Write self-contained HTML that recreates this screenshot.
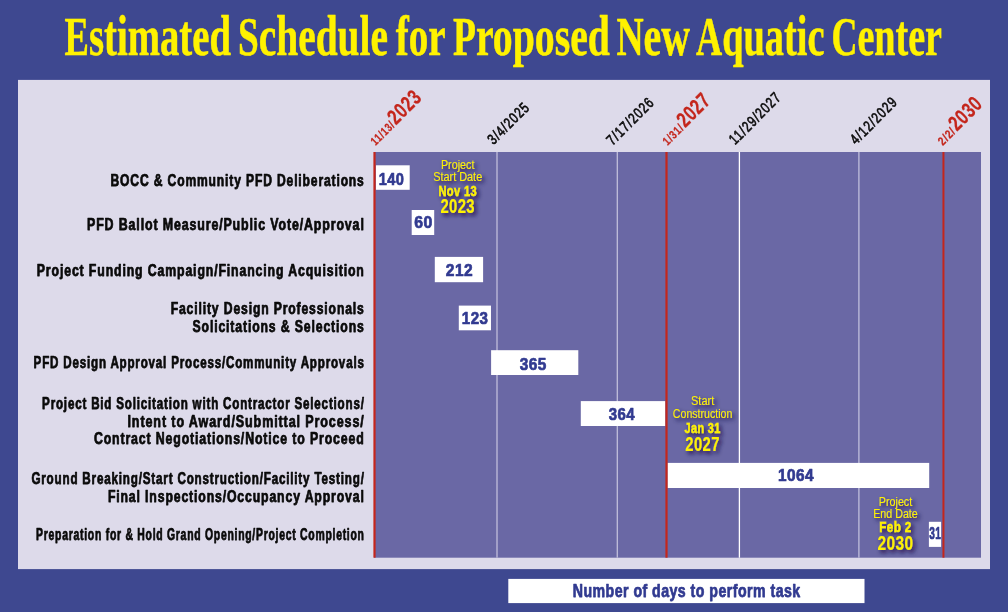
<!DOCTYPE html>
<html lang="en"><head><meta charset="utf-8">
<title>Estimated Schedule for Proposed New Aquatic Center</title>
<style>
html,body{margin:0;padding:0;background:#3e4890;}
body{width:1008px;height:612px;overflow:hidden;}
svg{display:block;}
text{font-family:"Liberation Sans",Arial,Helvetica,sans-serif;}
.title{font-family:"Liberation Serif","Times New Roman",serif;font-weight:bold;font-size:57.4px;fill:#fff200;stroke:#fff200;stroke-width:0.5px;stroke-linejoin:round;}
.title .c{font-size:54.2px;}
.lab{font-weight:bold;font-size:15.7px;fill:#0a0a0a;letter-spacing:1.1px;stroke:#0a0a0a;stroke-width:0.75px;stroke-linejoin:round;}
.num{font-weight:bold;font-size:17.2px;fill:#313a90;letter-spacing:0.5px;stroke:#313a90;stroke-width:0.7px;stroke-linejoin:round;}
.dt{font-size:15px;fill:#0a0a0a;stroke:#0a0a0a;stroke-width:0.65px;letter-spacing:1.3px;}
.rs{font-weight:bold;font-size:12px;fill:#c4261c;letter-spacing:0.9px;stroke:#c4261c;stroke-width:0.25px;}
.rb{font-weight:bold;font-size:21.5px;fill:#c4261c;letter-spacing:0.8px;stroke:#c4261c;stroke-width:0.25px;}
.n1{font-size:12px;fill:#fff200;}
.n2{font-weight:bold;font-size:15.3px;fill:#fff200;letter-spacing:0.5px;stroke:#fff200;stroke-width:0.4px;}
.n3{font-weight:bold;font-size:19.6px;fill:#fff200;letter-spacing:0.5px;}
.leg{font-weight:bold;font-size:17.9px;fill:#313a90;letter-spacing:0.6px;stroke:#313a90;stroke-width:0.75px;stroke-linejoin:round;}
</style></head><body>
<svg width="1008" height="612" viewBox="0 0 1008 612">
<defs><filter id="sh" x="-30%" y="-30%" width="170%" height="180%"><feDropShadow dx="2.4" dy="2.6" stdDeviation="2" flood-color="#120d3c" flood-opacity="0.95"/></filter></defs>
<rect x="0" y="0" width="1008" height="612" fill="#3e4890"/>
<rect x="18" y="79.9" width="972" height="489.2" fill="#dddaea"/>
<rect x="374" y="152" width="607" height="405.7" fill="#6a68a5"/>
<rect x="496.35" y="152.00" width="1.30" height="405.70" fill="#c0bedb" fill-opacity="1"/>
<rect x="616.65" y="152.00" width="1.30" height="405.70" fill="#c0bedb" fill-opacity="1"/>
<rect x="738.75" y="152.00" width="1.30" height="405.70" fill="#ffffff" fill-opacity="1"/>
<rect x="858.25" y="152.00" width="1.30" height="405.70" fill="#c0bedb" fill-opacity="1"/>
<rect x="375.90" y="165.30" width="33.80" height="24.50" fill="#fff"/>
<rect x="411.70" y="210.00" width="22.50" height="25.00" fill="#fff"/>
<rect x="434.80" y="256.90" width="48.30" height="25.30" fill="#fff"/>
<rect x="458.80" y="305.60" width="32.20" height="24.70" fill="#fff"/>
<rect x="491.10" y="350.20" width="87.20" height="24.80" fill="#fff"/>
<rect x="580.80" y="401.10" width="84.50" height="24.90" fill="#fff"/>
<rect x="667.50" y="462.90" width="261.70" height="25.10" fill="#fff"/>
<rect x="928.90" y="521.80" width="12.20" height="25.10" fill="#fff"/>
<rect x="373.40" y="152.00" width="2.20" height="405.70" fill="#c4261c" fill-opacity="1"/>
<rect x="665.40" y="152.00" width="2.20" height="405.70" fill="#c4261c" fill-opacity="1"/>
<rect x="942.45" y="152.00" width="2.00" height="405.70" fill="#c4261c" fill-opacity="1"/>
<text class="num" x="378.70" y="184.70" textLength="25.60" lengthAdjust="spacingAndGlyphs">140</text>
<text class="num" x="414.30" y="228.20" textLength="18.50" lengthAdjust="spacingAndGlyphs">60</text>
<text class="num" x="445.80" y="275.50" textLength="27.30" lengthAdjust="spacingAndGlyphs">212</text>
<text class="num" x="461.80" y="324.40" textLength="26.60" lengthAdjust="spacingAndGlyphs">123</text>
<text class="num" x="519.80" y="369.90" textLength="27.00" lengthAdjust="spacingAndGlyphs">365</text>
<text class="num" x="608.80" y="420.00" textLength="26.30" lengthAdjust="spacingAndGlyphs">364</text>
<text class="num" x="778.10" y="480.60" textLength="36.00" lengthAdjust="spacingAndGlyphs">1064</text>
<text class="num" x="929.30" y="538.60" textLength="11.90" lengthAdjust="spacingAndGlyphs">31</text>
<text class="title" x="64.60" y="55" textLength="166.4" lengthAdjust="spacingAndGlyphs"><tspan class="c">E</tspan>stimated</text>
<text class="title" x="238.00" y="55" textLength="150.0" lengthAdjust="spacingAndGlyphs"><tspan class="c">S</tspan>chedule</text>
<text class="title" x="395.70" y="55" textLength="49.9" lengthAdjust="spacingAndGlyphs">for</text>
<text class="title" x="453.00" y="55" textLength="157.0" lengthAdjust="spacingAndGlyphs"><tspan class="c">P</tspan>roposed</text>
<text class="title" x="616.50" y="55" textLength="73.5" lengthAdjust="spacingAndGlyphs"><tspan class="c">N</tspan>ew</text>
<text class="title" x="696.00" y="55" textLength="128.5" lengthAdjust="spacingAndGlyphs"><tspan class="c">A</tspan>quatic</text>
<text class="title" x="831.40" y="55" textLength="110.6" lengthAdjust="spacingAndGlyphs"><tspan class="c">C</tspan>enter</text>
<text class="lab" x="110.50" y="185.60" textLength="254.2" lengthAdjust="spacingAndGlyphs">BOCC &amp; Community PFD Deliberations</text>
<text class="lab" x="87.00" y="229.70" textLength="277.7" lengthAdjust="spacingAndGlyphs">PFD Ballot Measure/Public Vote/Approval</text>
<text class="lab" x="36.80" y="275.80" textLength="327.9" lengthAdjust="spacingAndGlyphs">Project Funding Campaign/Financing Acquisition</text>
<text class="lab" x="170.70" y="313.70" textLength="194.0" lengthAdjust="spacingAndGlyphs">Facility Design Professionals</text>
<text class="lab" x="192.50" y="331.60" textLength="172.2" lengthAdjust="spacingAndGlyphs">Solicitations &amp; Selections</text>
<text class="lab" x="33.60" y="368.30" textLength="331.1" lengthAdjust="spacingAndGlyphs">PFD Design Approval Process/Community Approvals</text>
<text class="lab" x="42.10" y="408.70" textLength="322.6" lengthAdjust="spacingAndGlyphs">Project Bid Solicitation with Contractor Selections/</text>
<text class="lab" x="127.50" y="426.50" textLength="237.2" lengthAdjust="spacingAndGlyphs">Intent to Award/Submittal Process/</text>
<text class="lab" x="93.90" y="444.40" textLength="270.8" lengthAdjust="spacingAndGlyphs">Contract Negotiations/Notice to Proceed</text>
<text class="lab" x="31.40" y="483.70" textLength="333.3" lengthAdjust="spacingAndGlyphs">Ground Breaking/Start Construction/Facility Testing/</text>
<text class="lab" x="107.90" y="501.50" textLength="256.8" lengthAdjust="spacingAndGlyphs">Final Inspections/Occupancy Approval</text>
<text class="lab" x="36.10" y="539.60" textLength="328.6" lengthAdjust="spacingAndGlyphs">Preparation for &amp; Hold Grand Opening/Project Completion</text>
<text class="dt" transform="translate(493.50 145.30) rotate(-45)" textLength="52.5" lengthAdjust="spacingAndGlyphs">3/4/2025</text>
<text class="dt" transform="translate(612.60 146.00) rotate(-45)" textLength="60.5" lengthAdjust="spacingAndGlyphs">7/17/2026</text>
<text class="dt" transform="translate(735.00 145.30) rotate(-45)" textLength="67.0" lengthAdjust="spacingAndGlyphs">11/29/2027</text>
<text class="dt" transform="translate(856.00 145.30) rotate(-45)" textLength="60.0" lengthAdjust="spacingAndGlyphs">4/12/2029</text>
<g transform="translate(375.50 146.00) rotate(-45)"><text class="rs" x="0" y="0" textLength="28.5" lengthAdjust="spacingAndGlyphs">11/13/</text><text class="rb" x="29.0" y="0" textLength="38.0" lengthAdjust="spacingAndGlyphs">2023</text></g>
<g transform="translate(667.50 146.00) rotate(-45)"><text class="rs" x="0" y="0" textLength="24.5" lengthAdjust="spacingAndGlyphs">1/31/</text><text class="rb" x="25.0" y="0" textLength="38.0" lengthAdjust="spacingAndGlyphs">2027</text></g>
<g transform="translate(942.80 146.00) rotate(-45)"><text class="rs" x="0" y="0" textLength="19.5" lengthAdjust="spacingAndGlyphs">2/2/</text><text class="rb" x="20.0" y="0" textLength="38.0" lengthAdjust="spacingAndGlyphs">2030</text></g>
<g filter="url(#sh)">
<text class="n1" x="457.70" y="168.90" text-anchor="middle" textLength="33.5" lengthAdjust="spacingAndGlyphs">Project</text>
<text class="n1" x="457.70" y="180.90" text-anchor="middle" textLength="49.0" lengthAdjust="spacingAndGlyphs">Start Date</text>
<text class="n2" x="457.70" y="196.20" text-anchor="middle" textLength="38.5" lengthAdjust="spacingAndGlyphs">Nov 13</text>
<text class="n3" x="457.70" y="213.00" text-anchor="middle" textLength="34.5" lengthAdjust="spacingAndGlyphs">2023</text>
</g>
<g filter="url(#sh)">
<text class="n1" x="702.60" y="404.80" text-anchor="middle" textLength="23.2" lengthAdjust="spacingAndGlyphs">Start</text>
<text class="n1" x="702.60" y="418.30" text-anchor="middle" textLength="59.5" lengthAdjust="spacingAndGlyphs">Construction</text>
<text class="n2" x="702.60" y="432.70" text-anchor="middle" textLength="36.0" lengthAdjust="spacingAndGlyphs">Jan 31</text>
<text class="n3" x="702.60" y="451.00" text-anchor="middle" textLength="34.5" lengthAdjust="spacingAndGlyphs">2027</text>
</g>
<g filter="url(#sh)">
<text class="n1" x="895.50" y="506.10" text-anchor="middle" textLength="33.5" lengthAdjust="spacingAndGlyphs">Project</text>
<text class="n1" x="895.50" y="518.10" text-anchor="middle" textLength="44.5" lengthAdjust="spacingAndGlyphs">End Date</text>
<text class="n2" x="895.50" y="532.00" text-anchor="middle" textLength="32.5" lengthAdjust="spacingAndGlyphs">Feb 2</text>
<text class="n3" x="895.50" y="550.00" text-anchor="middle" textLength="36.0" lengthAdjust="spacingAndGlyphs">2030</text>
</g>
<rect x="508.3" y="578.9" width="356.2" height="24.2" fill="#fff"/>
<text class="leg" x="572.7" y="596.7" textLength="228" lengthAdjust="spacingAndGlyphs">Number of days to perform task</text>
</svg>
</body></html>
